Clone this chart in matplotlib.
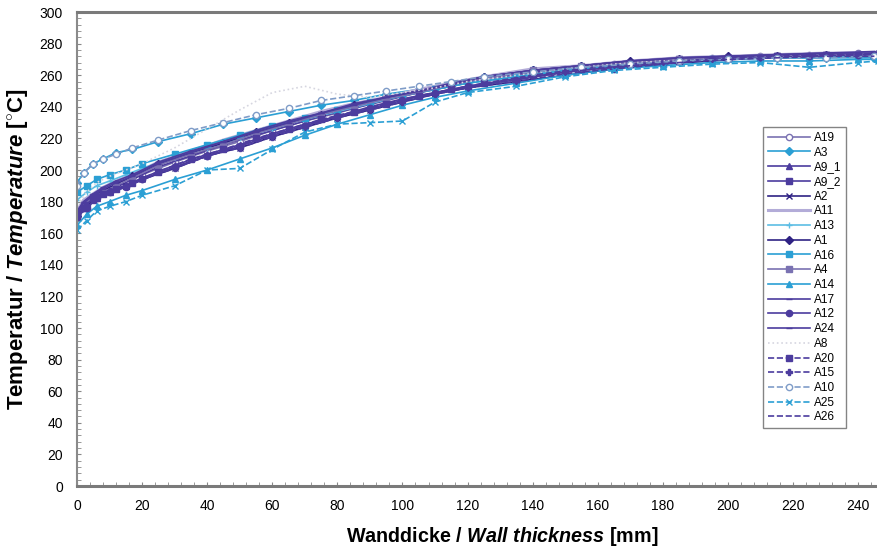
import matplotlib
matplotlib.use('Agg')
import matplotlib.pyplot as plt
from matplotlib.ticker import MultipleLocator

plt.rcParams['font.family'] = ['Liberation Sans', 'DejaVu Sans']
plt.rcParams['mathtext.fontset'] = 'custom'
plt.rcParams['mathtext.rm'] = 'Liberation Sans'
plt.rcParams['mathtext.it'] = 'Liberation Sans:italic'
plt.rcParams['mathtext.bf'] = 'Liberation Sans:bold'
plt.rcParams['mathtext.bfit'] = 'Liberation Sans:italic:bold'

# ── Data: wall thickness [mm] vs temperature [°C] ─────────
XA = [0, 3, 6, 10, 15, 20, 30, 40, 50, 60, 70, 80, 90, 100, 110, 120,
      135, 150, 165, 180, 195, 210, 225, 240, 246]
XB = [0, 2, 5, 8, 12, 17, 25, 35, 45, 55, 65, 75, 85, 95, 105, 115,
      125, 140, 155, 170, 185, 200, 215, 230, 245]

A19  = [173, 180, 185, 188, 192, 197, 205, 212, 218, 225, 231, 236, 242, 247, 251, 255, 260, 264, 267, 269, 271, 272, 273, 274, 274]
A3   = [192, 198, 204, 207, 211, 213, 218, 223, 229, 233, 237, 241, 244, 248, 251, 255, 259, 263, 266, 268, 269, 270, 271, 271, 271]
A9_1 = [171, 177, 182, 186, 190, 195, 203, 210, 216, 223, 229, 234, 240, 245, 249, 253, 258, 262, 266, 268, 270, 271, 272, 272, 273]
A9_2 = [170, 176, 181, 186, 189, 194, 202, 209, 216, 222, 228, 234, 239, 244, 249, 253, 258, 262, 265, 268, 270, 271, 272, 273, 273]
A2   = [172, 178, 184, 187, 190, 194, 201, 209, 214, 221, 227, 233, 238, 243, 248, 252, 256, 260, 264, 267, 269, 271, 272, 273, 273]
A11  = [174, 181, 185, 189, 193, 197, 205, 212, 219, 225, 231, 237, 242, 246, 251, 255, 259, 264, 266, 269, 271, 272, 273, 274, 274]
A13  = [181, 186, 190, 193, 197, 201, 208, 214, 220, 226, 232, 237, 242, 247, 251, 255, 259, 263, 266, 268, 270, 271, 272, 272, 272]
A1   = [171, 177, 183, 187, 191, 196, 204, 211, 217, 224, 230, 235, 241, 246, 250, 254, 259, 263, 266, 269, 270, 272, 272, 273, 273]
A16  = [186, 190, 194, 197, 200, 204, 210, 216, 222, 228, 233, 238, 243, 247, 251, 255, 259, 263, 266, 268, 270, 271, 271, 272, 272]
A4   = [172, 178, 183, 186, 190, 195, 203, 210, 216, 223, 229, 235, 240, 245, 249, 254, 258, 263, 266, 268, 270, 271, 272, 273, 273]
A14  = [165, 172, 177, 180, 184, 187, 194, 200, 207, 214, 222, 229, 235, 241, 246, 250, 255, 260, 264, 266, 268, 269, 269, 270, 270]
A17  = [173, 179, 184, 188, 192, 196, 204, 211, 218, 224, 230, 236, 241, 246, 250, 254, 259, 263, 266, 269, 271, 272, 273, 274, 274]
A12  = [170, 176, 182, 186, 189, 194, 202, 209, 215, 222, 228, 234, 239, 244, 249, 253, 257, 262, 265, 268, 270, 271, 272, 273, 273]
A24  = [174, 180, 185, 189, 193, 197, 205, 212, 218, 225, 231, 236, 242, 246, 250, 255, 259, 263, 266, 269, 271, 272, 273, 274, 275]
A8   = [178, 186, 192, 196, 200, 204, 214, 226, 238, 249, 253, 248, 246, 249, 252, 256, 260, 264, 267, 269, 270, 271, 272, 273, 273]
A20  = [171, 176, 182, 185, 188, 192, 199, 207, 213, 220, 226, 232, 237, 242, 247, 251, 255, 260, 264, 267, 269, 271, 272, 273, 273]
A15  = [173, 178, 184, 187, 190, 194, 201, 209, 214, 221, 227, 233, 238, 243, 248, 252, 256, 261, 264, 267, 270, 271, 272, 273, 274]
A10  = [190, 198, 204, 207, 210, 214, 219, 225, 230, 235, 239, 244, 247, 250, 253, 256, 259, 262, 265, 267, 269, 270, 271, 271, 272]
A25  = [162, 168, 174, 177, 180, 184, 190, 200, 201, 213, 224, 229, 230, 231, 243, 249, 253, 259, 263, 265, 267, 268, 265, 268, 269]
A26  = [169, 174, 180, 184, 187, 191, 198, 205, 212, 219, 225, 231, 236, 241, 246, 250, 254, 259, 263, 266, 268, 270, 271, 272, 272]

X_TICKS = list(range(0, 241, 20))
Y_TICKS = list(range(0, 301, 20))

# ── Series styles (x grid, values, colour, linestyle, marker) ──
PURPLE_D = "#2f2284"
PURPLE   = "#4c3c9e"
PURPLE_G = "#7a72b2"
LILAC    = "#b3acd8"
CYAN     = "#2b9fd4"
CYAN_L   = "#5cbde4"

series = [
    ("A19",  XA, A19,  PURPLE_G, "-",  "o",  True),
    ("A3",   XB, A3,   CYAN,     "-",  "D",  False),
    ("A9_1", XA, A9_1, PURPLE,   "-",  "^",  False),
    ("A9_2", XB, A9_2, PURPLE,   "-",  "s",  False),
    ("A2",   XA, A2,   PURPLE_D, "-",  "x",  False),
    ("A11",  XB, A11,  LILAC,    "-",  None, False),
    ("A13",  XA, A13,  CYAN_L,   "-",  "+",  False),
    ("A1",   XB, A1,   PURPLE_D, "-",  "D",  False),
    ("A16",  XA, A16,  CYAN,     "-",  "s",  False),
    ("A4",   XB, A4,   PURPLE_G, "-",  "s",  False),
    ("A14",  XA, A14,  CYAN,     "-",  "^",  False),
    ("A17",  XB, A17,  PURPLE,   "-",  "_",  False),
    ("A12",  XA, A12,  PURPLE,   "-",  "o",  False),
    ("A24",  XB, A24,  PURPLE,   "-",  "_",  False),
    ("A8",   XA, A8,   "#d6d6e0", ":",  None, False),
    ("A20",  XB, A20,  PURPLE,   "--", "s",  False),
    ("A15",  XA, A15,  PURPLE,   "--", "P",  False),
    ("A10",  XB, A10,  "#7f9cc8", "--", "o",  True),
    ("A25",  XA, A25,  CYAN,     "--", "x",  False),
    ("A26",  XB, A26,  PURPLE,   "--", None, False),
]

# ── Figure ────────────────────────────────────────────────
fig = plt.figure(figsize=(8.77, 5.49), dpi=100)
fig.patch.set_facecolor("white")
ax = fig.add_axes([77/877, 63/549, 800/877, 474/549])

for name, xs, ys, col, ls, mk, hollow in series:
    lw = 2.2 if name == "A11" else 1.2
    ax.plot(xs, ys, color=col, linestyle=ls, linewidth=lw,
            marker=mk, markersize=4.5,
            markerfacecolor="white" if hollow else col,
            markeredgecolor=col, markeredgewidth=1.0, label=name)

ax.set_xlim(0, 245.8)
ax.set_ylim(0, 300)
ax.set_xticks(X_TICKS)
ax.set_yticks(Y_TICKS)
ax.xaxis.set_minor_locator(MultipleLocator(4))
ax.yaxis.set_minor_locator(MultipleLocator(4))
ax.tick_params(axis='both', which='both', direction='in', length=3,
               color='#888888', labelsize=10, labelcolor='black')
ax.tick_params(axis='x', pad=9)
ax.tick_params(axis='y', pad=10)

ax.spines['right'].set_visible(False)
ax.spines['top'].set_color('#7a7a7a')
ax.spines['top'].set_linewidth(2.2)
ax.spines['bottom'].set_color('#7a7a7a')
ax.spines['bottom'].set_linewidth(2.2)
ax.spines['left'].set_color('#8a8a8a')
ax.spines['left'].set_linewidth(1.5)

ax.set_xlabel(r"Wanddicke / $\mathbfit{Wall\ thickness}$ [mm]",
              fontsize=14.2, fontweight='bold')
ax.xaxis.set_label_coords((502 - 77) / 800, -0.083)
ax.set_ylabel(r"Temperatur / $\mathbfit{Temperature}$ [$^{\circ}$C]",
              fontsize=16, fontweight='bold')
ax.yaxis.set_label_coords(-0.059, 0.5)

leg = ax.legend(loc='upper left', bbox_to_anchor=(0.8575, 0.757),
                borderaxespad=0, fontsize=8.5, frameon=True, fancybox=False,
                handlelength=3.6, labelspacing=0.23, handletextpad=0.3,
                borderpad=0.4)
leg.get_frame().set_edgecolor('#666666')
leg.get_frame().set_linewidth(1.0)

plt.savefig("out.png", dpi=100, facecolor="white")
plt.close()
